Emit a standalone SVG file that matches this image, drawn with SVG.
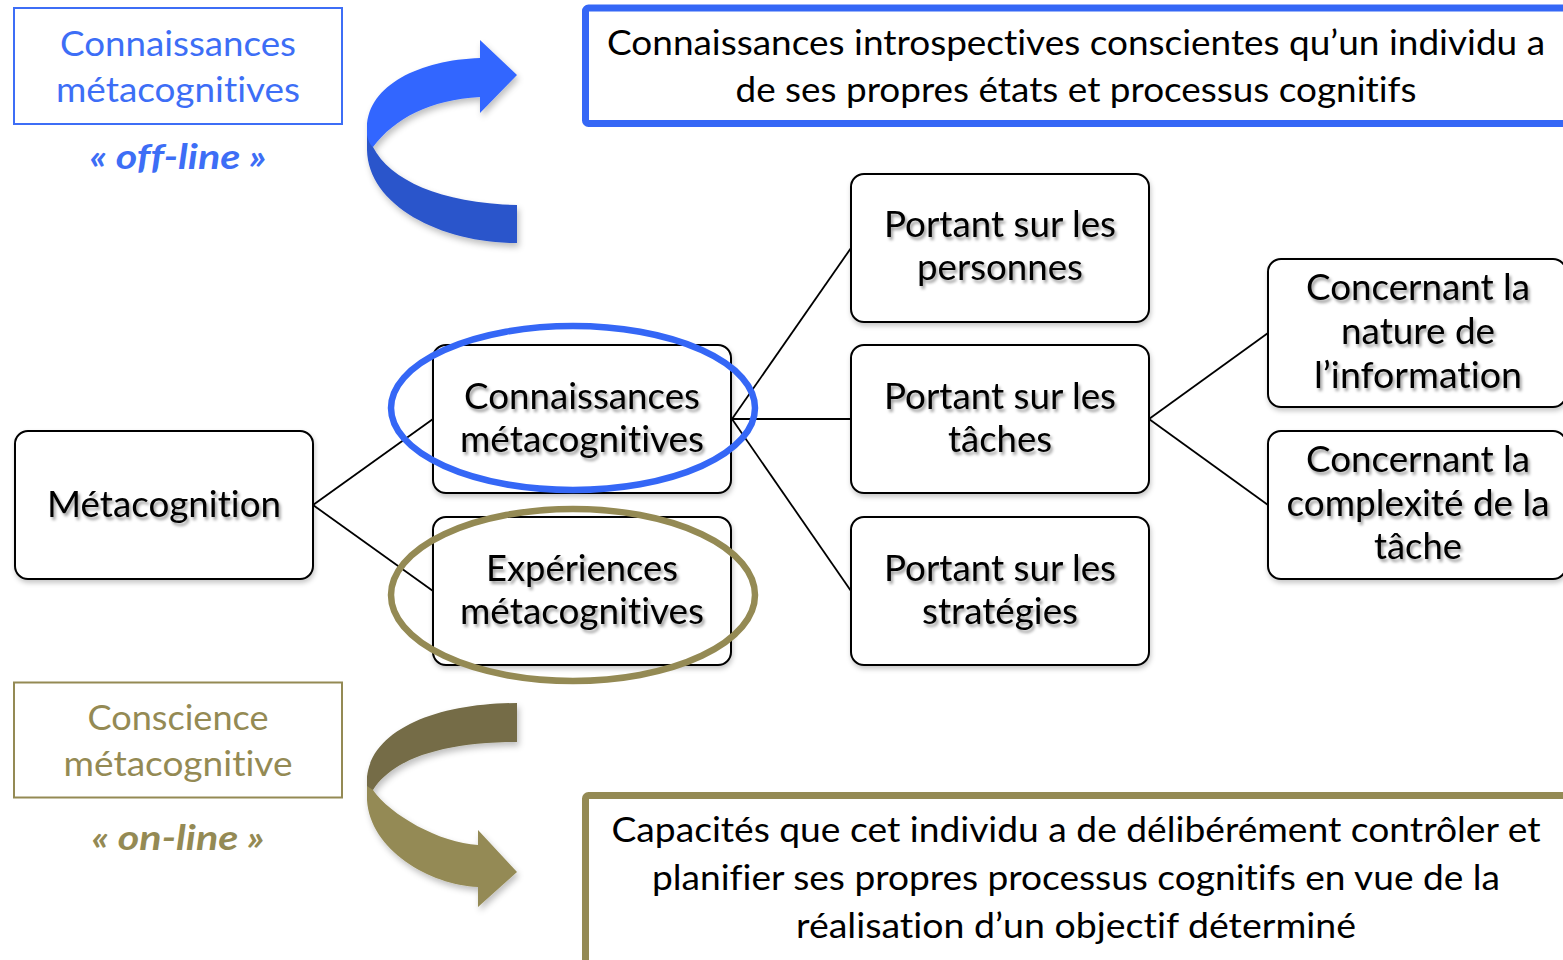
<svg xmlns="http://www.w3.org/2000/svg" width="1563" height="960" viewBox="0 0 1563 960">
  <defs>
    <style>
      text { font-variant-ligatures: none; font-feature-settings: "liga" 0, "dlig" 0; }
      .box { fill: #ffffff; stroke: #000000; stroke-width: 2; }
      .node-text { font-family: Lato, "Open Sans", "Noto Sans", sans-serif; font-size: 37px; fill: #000000; text-anchor: middle; }
      .def-text { font-family: Lato, "Open Sans", "Noto Sans", sans-serif; font-size: 35px; fill: #000000; text-anchor: middle; }
      .blue-text { font-family: Lato, "Open Sans", "Noto Sans", sans-serif; font-size: 35px; fill: #3d6ef6; text-anchor: middle; }
      .olive-text { font-family: Lato, "Open Sans", "Noto Sans", sans-serif; font-size: 35px; fill: #948a54; text-anchor: middle; }
      .tag { font-weight: bold; font-style: italic; }
      .link { stroke: #000000; stroke-width: 1.8; fill: none; }
    </style>
    <filter id="boxShadow" x="-10%" y="-10%" width="125%" height="130%">
      <feGaussianBlur in="SourceAlpha" stdDeviation="2.5"/>
      <feOffset dx="1" dy="3" result="off"/>
      <feFlood flood-color="#000000" flood-opacity="0.22"/>
      <feComposite in2="off" operator="in"/>
      <feMerge><feMergeNode/><feMergeNode in="SourceGraphic"/></feMerge>
    </filter>
    <filter id="textShadow" x="-10%" y="-30%" width="120%" height="170%">
      <feGaussianBlur in="SourceAlpha" stdDeviation="1.6"/>
      <feOffset dx="1.5" dy="2.5" result="off"/>
      <feFlood flood-color="#000000" flood-opacity="0.38"/>
      <feComposite in2="off" operator="in"/>
      <feMerge><feMergeNode/><feMergeNode in="SourceGraphic"/></feMerge>
    </filter>
    <filter id="arrowShadow" x="-15%" y="-15%" width="135%" height="135%">
      <feGaussianBlur in="SourceAlpha" stdDeviation="3"/>
      <feOffset dx="2" dy="4" result="off"/>
      <feFlood flood-color="#000000" flood-opacity="0.25"/>
      <feComposite in2="off" operator="in"/>
      <feMerge><feMergeNode/><feMergeNode in="SourceGraphic"/></feMerge>
    </filter>
  </defs>

  <!-- connectors of the tree -->
  <g id="connectors">
    <line class="link" x1="313" y1="505" x2="433" y2="419"/>
    <line class="link" x1="313" y1="505" x2="433" y2="591"/>
    <line class="link" x1="732" y1="419" x2="851" y2="248"/>
    <line class="link" x1="732" y1="419" x2="851" y2="419"/>
    <line class="link" x1="732" y1="419" x2="851" y2="591"/>
    <line class="link" x1="1149" y1="419" x2="1268" y2="333"/>
    <line class="link" x1="1149" y1="419" x2="1268" y2="505"/>
  </g>

  <!-- tree nodes -->
  <g id="node-metacognition">
    <rect class="box" x="15" y="431" width="298" height="148" rx="13" filter="url(#boxShadow)"/>
    <text class="node-text" x="164" y="517" textLength="234" lengthAdjust="spacingAndGlyphs" filter="url(#textShadow)">Métacognition</text>
  </g>
  <g id="node-connaissances">
    <rect class="box" x="433" y="345" width="298" height="148" rx="13" filter="url(#boxShadow)"/>
    <text class="node-text" x="582" y="409" textLength="236" lengthAdjust="spacingAndGlyphs" filter="url(#textShadow)">Connaissances</text>
    <text class="node-text" x="582" y="452" textLength="244" lengthAdjust="spacingAndGlyphs" filter="url(#textShadow)">métacognitives</text>
  </g>
  <g id="node-experiences">
    <rect class="box" x="433" y="517" width="298" height="148" rx="13" filter="url(#boxShadow)"/>
    <text class="node-text" x="582" y="581" textLength="192" lengthAdjust="spacingAndGlyphs" filter="url(#textShadow)">Expériences</text>
    <text class="node-text" x="582" y="624" textLength="244" lengthAdjust="spacingAndGlyphs" filter="url(#textShadow)">métacognitives</text>
  </g>
  <g id="node-personnes">
    <rect class="box" x="851" y="174" width="298" height="148" rx="13" filter="url(#boxShadow)"/>
    <text class="node-text" x="1000" y="237" textLength="232" lengthAdjust="spacingAndGlyphs" filter="url(#textShadow)">Portant sur les</text>
    <text class="node-text" x="1000" y="280" textLength="166" lengthAdjust="spacingAndGlyphs" filter="url(#textShadow)">personnes</text>
  </g>
  <g id="node-taches">
    <rect class="box" x="851" y="345" width="298" height="148" rx="13" filter="url(#boxShadow)"/>
    <text class="node-text" x="1000" y="409" textLength="232" lengthAdjust="spacingAndGlyphs" filter="url(#textShadow)">Portant sur les</text>
    <text class="node-text" x="1000" y="452" textLength="104" lengthAdjust="spacingAndGlyphs" filter="url(#textShadow)">tâches</text>
  </g>
  <g id="node-strategies">
    <rect class="box" x="851" y="517" width="298" height="148" rx="13" filter="url(#boxShadow)"/>
    <text class="node-text" x="1000" y="581" textLength="232" lengthAdjust="spacingAndGlyphs" filter="url(#textShadow)">Portant sur les</text>
    <text class="node-text" x="1000" y="624" textLength="156" lengthAdjust="spacingAndGlyphs" filter="url(#textShadow)">stratégies</text>
  </g>
  <g id="node-nature">
    <rect class="box" x="1268" y="259" width="298" height="148" rx="13" filter="url(#boxShadow)"/>
    <text class="node-text" x="1418" y="300" textLength="224" lengthAdjust="spacingAndGlyphs" filter="url(#textShadow)">Concernant la</text>
    <text class="node-text" x="1418" y="344" textLength="154" lengthAdjust="spacingAndGlyphs" filter="url(#textShadow)">nature de</text>
    <text class="node-text" x="1418" y="388" textLength="208" lengthAdjust="spacingAndGlyphs" filter="url(#textShadow)">l’information</text>
  </g>
  <g id="node-complexite">
    <rect class="box" x="1268" y="431" width="298" height="148" rx="13" filter="url(#boxShadow)"/>
    <text class="node-text" x="1418" y="472" textLength="224" lengthAdjust="spacingAndGlyphs" filter="url(#textShadow)">Concernant la</text>
    <text class="node-text" x="1418" y="516" textLength="263" lengthAdjust="spacingAndGlyphs" filter="url(#textShadow)">complexité de la</text>
    <text class="node-text" x="1418" y="559" textLength="88" lengthAdjust="spacingAndGlyphs" filter="url(#textShadow)">tâche</text>
  </g>

  <!-- highlight rings -->
  <g id="ring-connaissances">
    <ellipse cx="573" cy="408" rx="182" ry="82" fill="none" stroke="#3567f6" stroke-width="6.5"/>
  </g>
  <g id="ring-experiences">
    <ellipse cx="573" cy="595" rx="182" ry="86" fill="none" stroke="#948a54" stroke-width="6.5"/>
  </g>

  <!-- off-line legend -->
  <g id="label-offline">
    <rect x="14" y="8" width="328" height="116" fill="#ffffff" stroke="#3d6ef6" stroke-width="2"/>
    <text class="blue-text" x="178" y="56" textLength="236" lengthAdjust="spacingAndGlyphs">Connaissances</text>
    <text class="blue-text" x="178" y="102" textLength="244" lengthAdjust="spacingAndGlyphs">métacognitives</text>
    <text class="blue-text tag" x="178" y="169" textLength="177" lengthAdjust="spacingAndGlyphs">« off-line »</text>
  </g>

  <!-- on-line legend -->
  <g id="label-online">
    <rect x="14" y="682.5" width="328" height="115" fill="#ffffff" stroke="#948a54" stroke-width="2"/>
    <text class="olive-text" x="178" y="730" textLength="181" lengthAdjust="spacingAndGlyphs">Conscience</text>
    <text class="olive-text" x="178" y="776" textLength="229" lengthAdjust="spacingAndGlyphs">métacognitive</text>
    <text class="olive-text tag" x="178" y="850" textLength="173" lengthAdjust="spacingAndGlyphs">« on-line »</text>
  </g>

  <!-- curved ribbon arrows -->
  <g id="arrow-offline" filter="url(#arrowShadow)">
    <path d="M 367,125 L 367,150 C 368,205 440,243 517,243 L 517,205 C 440,203 390,180 373,147 Z" fill="#2b55cb"/>
    <path d="M 480,58 C 420,60 368,85 367,127 L 367,135 C 368,140 370,145 373,147 C 395,118 430,100 480,97 L 480,113 L 517,75 L 480,40 Z" fill="#3366ff"/>
  </g>
  <g id="arrow-online" filter="url(#arrowShadow)">
    <path d="M 478,845 C 440,843 390,815 373,790 L 367,775 L 367,800 C 370,850 430,885 478,887 L 478,907 L 517,872 L 478,830 Z" fill="#948a54"/>
    <path d="M 517,703 C 440,703 372,728 367,777 L 367,786 L 373,790 C 392,760 440,742 517,742 Z" fill="#746c46"/>
  </g>

  <!-- definition boxes -->
  <g id="def-offline">
    <rect x="585.5" y="8" width="990" height="115.5" rx="3" fill="#ffffff" stroke="#3567f6" stroke-width="7"/>
    <text class="def-text" x="1076" y="55" textLength="938" lengthAdjust="spacingAndGlyphs">Connaissances introspectives conscientes qu’un individu a</text>
    <text class="def-text" x="1076" y="102" textLength="681" lengthAdjust="spacingAndGlyphs">de ses propres états et processus cognitifs</text>
  </g>
  <g id="def-online">
    <rect x="585.5" y="795.5" width="990" height="180" rx="3" fill="#ffffff" stroke="#948a54" stroke-width="7"/>
    <text class="def-text" x="1076" y="842" textLength="929" lengthAdjust="spacingAndGlyphs">Capacités que cet individu a de délibérément contrôler et</text>
    <text class="def-text" x="1076" y="890" textLength="848" lengthAdjust="spacingAndGlyphs">planifier ses propres processus cognitifs en vue de la</text>
    <text class="def-text" x="1076" y="938" textLength="560" lengthAdjust="spacingAndGlyphs">réalisation d’un objectif déterminé</text>
  </g>
</svg>
